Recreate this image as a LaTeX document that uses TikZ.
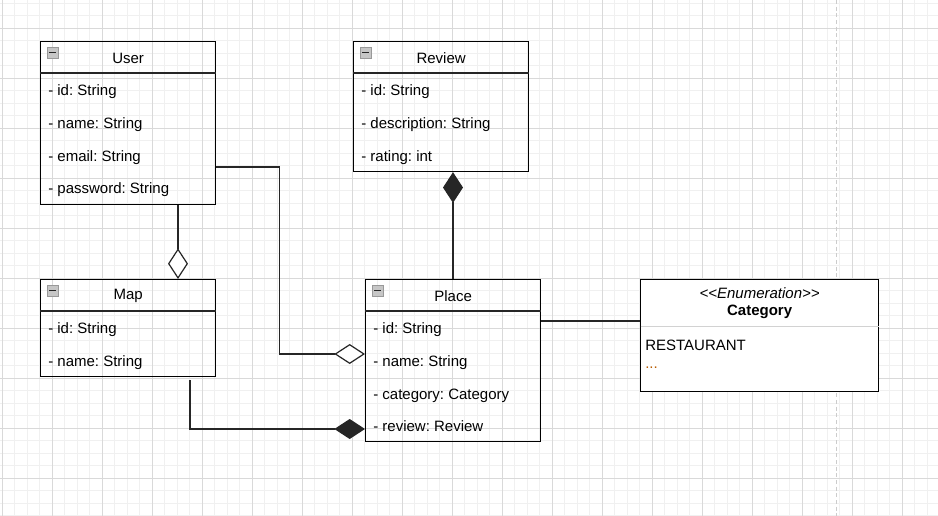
\documentclass[tikz,border=0pt]{standalone}
\usepackage{fontspec}
\setmainfont{Liberation Sans}
\usetikzlibrary{arrows.meta,calc}

\definecolor{gridminor}{HTML}{F0F0F0}
\definecolor{gridmajor}{HTML}{D9D9D9}
\definecolor{dots}{HTML}{B85C00}

\begin{document}
\frenchspacing
\begin{tikzpicture}[x=0.75pt, y=-0.75pt, font=\fontsize{11.25}{13}\selectfont]
  \tikzstyle{cls} = [rectangle, draw=black, line width=0.9pt, anchor=north west, minimum width=131.25pt, inner sep=0pt]
  \tikzstyle{title} = [anchor=center, inner sep=0pt]
  \tikzstyle{attr} = [anchor=west, inner sep=0pt, text height=8pt, text depth=2.5pt]
  \tikzstyle{icon} = [rectangle, draw=gray!80, fill=gray!45, minimum size=8pt, inner sep=0pt, anchor=north west,
    path picture={\draw[line width=1.1pt, black!85] ([xshift=1.6pt]path picture bounding box.west) -- ([xshift=-1.6pt]path picture bounding box.east);}]
  \tikzstyle{line} = [line width=0.9pt, draw=black!85]
  \tikzstyle{aggr} = [line, -{Diamond[open, fill=white, length=23pt, width=15pt]}]
  \tikzstyle{comp} = [line, -{Diamond[length=23pt, width=15pt]}]

  % background grid
  \useasboundingbox (0,0) rectangle (938,516);
  \fill[white] (0,0) rectangle (938,516);
  \foreach \x in {2,14.5,...,938} \draw[gridminor, line width=0.75pt] (\x,0) -- (\x,516);
  \foreach \y in {3.3,15.8,...,516} \draw[gridminor, line width=0.75pt] (0,\y) -- (938,\y);
  \foreach \x in {2,52,...,938} \draw[gridmajor, line width=0.75pt] (\x,0) -- (\x,516);
  \foreach \y in {28.3,78.3,...,516} \draw[gridmajor, line width=0.75pt] (0,\y) -- (938,\y);
  \draw[gray!40, line width=1pt, dash pattern=on 3pt off 2pt] (836.7,0) -- (836.7,516);

  % classes
  \node (user) [cls, minimum height=122.25pt] at (40,41) {};
  \node (review) [cls, minimum height=97.5pt] at (353,41) {};
  \node (map) [cls, minimum height=72.75pt] at (40,279) {};
  \node (place) [cls, minimum height=121.5pt] at (365,279) {};

  \foreach \c/\t in {user/User, review/Review, map/Map, place/Place} {
    \node (\c-title) [title] at ($(\c.north)+(0,17)$) {\t};
    \node (\c-icon) [icon] at ($(\c.north west)+(7,6)$) {};
    \draw[line] ($(\c.north west)+(0,32)$) -- ($(\c.north east)+(0,32)$);
  }

  \foreach \t [count=\i from 0] in {- id: String, - name: String, - email: String, - password: String}
    \node (user-a\i) [attr] at ($(user.north west)+(8,51+32.7*\i)$) {\t};
  \foreach \t [count=\i from 0] in {- id: String, - description: String, - rating: int}
    \node (review-a\i) [attr] at ($(review.north west)+(8,51+32.7*\i)$) {\t};
  \foreach \t [count=\i from 0] in {- id: String, - name: String}
    \node (map-a\i) [attr] at ($(map.north west)+(8,51+32.7*\i)$) {\t};
  \foreach \t [count=\i from 0] in {- id: String, - name: String, - category: Category, - review: Review}
    \node (place-a\i) [attr] at ($(place.north west)+(8,51+32.7*\i)$) {\t};

  % enumeration
  \node (category) [cls, fill=white, minimum width=178.5pt, minimum height=84pt] at (640,279) {};
  \node (category-stereo) [title] at ($(category.north)+(0,14.5)$) {\itshape <\kern0pt<Enumeration>\kern0pt>};
  \node (category-title) [title] at ($(category.north)+(0,33)$) {\bfseries Category};
  \draw[gray!35, line width=0.75pt] ($(category.north west)+(0.6,48)$) -- ($(category.north east)+(-0.6,48)$);
  \node (category-v0) [attr] at ($(category.north west)+(5,68)$) {RESTAURANT};
  \node (category-v1) [attr, text=dots] at ($(category.north west)+(5,86)$) {...};

  % connectors
  \draw[aggr] ($(user.south west)+(138,0)$) -- ($(map.north west)+(138,0)$);
  \draw[aggr] ($(user.north east)+(0,126)$) -- ++(63,0) |- ($(place.north west)+(0,75)$);
  \draw[comp] ($(place.north west)+(88,0)$) -- ($(review.south west)+(100,0)$);
  \draw[comp] ($(map.south west)+(150,3)$) |- ($(place.north west)+(0,150)$);
  \draw[line] ($(place.north east)+(0,42)$) -- ($(category.north west)+(0,42)$);
\end{tikzpicture}
\end{document}
